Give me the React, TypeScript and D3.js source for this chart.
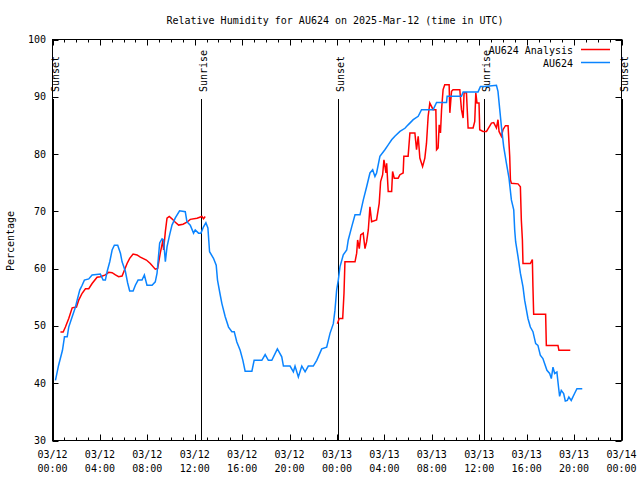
import React from "react";
import * as d3 from "d3";

const title = "Relative Humidity for AU624 on 2025-Mar-12 (time in UTC)";
const yLabel = "Percentage";
const seriesNames = ["AU624 Analysis", "AU624"];
const seriesColors = ["#ff0000", "#0a84ff"];

const tickDates = ["03/12", "03/12", "03/12", "03/12", "03/12", "03/12", "03/13", "03/13", "03/13", "03/13", "03/13", "03/13", "03/14"];
const tickTimes = ["00:00", "04:00", "08:00", "12:00", "16:00", "20:00", "00:00", "04:00", "08:00", "12:00", "16:00", "20:00", "00:00"];
const yTicks = [30, 40, 50, 60, 70, 80, 90, 100];

const eventHours = [0.08, 12.52, 24.11, 36.4, 48.08];
const eventLabels = ["Sunset", "Sunrise", "Sunset", "Sunrise", "Sunset"];

// AU624 observations (hours since 03/12 00:00 UTC)
const obsHours = [0.25, 0.51, 0.84, 1.01, 1.24, 1.37, 1.66, 1.94, 2.08, 2.3, 2.5, 2.69, 3.06, 3.34, 4.04, 4.27, 4.46, 4.61, 4.83, 5.03, 5.22, 5.5, 5.73, 5.87, 6.15, 6.34, 6.51, 6.8, 6.99, 7.22, 7.55, 7.75, 7.97, 8.4, 8.67, 8.82, 9.04, 9.24, 9.37, 9.52, 9.66, 9.88, 10.08, 10.36, 10.72, 11.2, 11.34, 11.62, 11.9, 12.04, 12.32, 12.52, 12.74, 12.94, 13.11, 13.25, 13.58, 13.81, 13.92, 14.15, 14.29, 14.57, 14.85, 15.13, 15.33, 15.55, 15.83, 16.06, 16.25, 16.82, 17.01, 17.66, 17.94, 18.21, 18.5, 18.97, 19.34, 19.48, 20.04, 20.32, 20.46, 20.74, 21.03, 21.31, 21.58, 22.0, 22.29, 22.71, 23.13, 23.41, 23.69, 23.83, 23.97, 24.11, 24.25, 24.53, 24.82, 24.95, 25.24, 25.52, 25.94, 26.22, 26.5, 26.78, 27.01, 27.2, 27.34, 27.62, 28.04, 28.32, 28.61, 28.88, 29.31, 29.73, 30.0, 30.43, 30.85, 31.13, 32.11, 32.4, 33.24, 33.29, 34.5, 34.64, 35.9, 36.1, 36.46, 37.45, 37.58, 37.73, 37.87, 38.06, 38.29, 38.51, 38.71, 38.91, 38.99, 39.07, 39.27, 39.47, 39.69, 39.83, 40.11, 40.31, 40.53, 40.76, 40.95, 41.15, 41.37, 41.52, 41.71, 41.94, 42.08, 42.22, 42.36, 42.55, 42.69, 42.78, 42.92, 43.12, 43.26, 43.43, 43.56, 43.76, 44.04, 44.24, 44.69];
const obsValues = [40.5, 43.1, 45.75, 48.1, 48.1, 49.8, 51.6, 53.3, 54.5, 56.25, 57.1, 58.0, 58.2, 58.9, 59.05, 58.0, 58.0, 59.5, 61.2, 63.25, 64.1, 64.1, 62.7, 61.2, 59.5, 57.5, 56.1, 56.1, 57.1, 58.0, 58.0, 58.9, 57.1, 57.1, 57.7, 59.2, 64.5, 65.2, 65.0, 61.2, 63.8, 65.9, 67.6, 68.85, 70.1, 69.95, 68.2, 67.6, 66.2, 66.75, 66.2, 66.2, 67.3, 68.0, 67.1, 62.95, 61.8, 60.6, 58.0, 55.4, 53.9, 51.6, 49.8, 49.0, 49.0, 47.2, 45.75, 44.0, 42.1, 42.1, 44.0, 44.0, 45.0, 44.0, 44.0, 46.0, 44.6, 43.0, 43.0, 42.0, 43.0, 41.1, 43.0, 42.0, 43.0, 43.0, 44.0, 46.0, 46.3, 48.7, 50.4, 52.75, 56.25, 58.0, 60.3, 62.4, 63.25, 65.0, 67.3, 69.4, 69.4, 72.0, 74.3, 76.7, 77.25, 76.1, 76.7, 79.6, 80.75, 81.6, 82.5, 83.1, 83.95, 84.5, 85.1, 86.0, 86.6, 87.75, 87.75, 89.0, 89.0, 90.1, 90.1, 90.85, 90.85, 91.8, 91.8, 92.0, 90.95, 87.75, 84.8, 81.3, 78.4, 75.8, 72.0, 70.25, 66.75, 64.7, 62.1, 59.2, 56.8, 54.5, 51.3, 49.8, 49.0, 46.9, 46.6, 44.9, 44.3, 43.4, 42.25, 41.7, 40.8, 42.8, 41.7, 41.95, 39.3, 37.7, 38.75, 38.2, 36.9, 37.0, 37.6, 37.0, 38.2, 39.05, 39.05];

// AU624 Analysis (null = no data)
const anaHours = [0.67, 0.9, 1.09, 1.37, 1.66, 2.02, 2.21, 2.5, 2.78, 3.06, 3.34, 3.76, 4.04, 4.46, 4.74, 5.03, 5.31, 5.58, 5.87, 6.29, 6.51, 6.8, 7.13, 7.41, 7.92, 8.25, 8.67, 8.87, 9.09, 9.32, 9.37, 9.52, 9.66, 9.85, 10.08, 10.36, 10.64, 11.01, 11.34, 11.62, 12.19, 12.61, 12.74, 12.88, 18.0, 24.03, 24.19, 24.48, 24.59, 24.67, 25.52, 25.66, 25.74, 25.88, 26.0, 26.21, 26.36, 26.5, 26.64, 26.78, 26.92, 27.34, 27.56, 27.68, 27.85, 27.96, 28.13, 28.19, 28.32, 28.61, 28.69, 28.83, 29.16, 29.31, 29.58, 29.64, 30.0, 30.15, 30.57, 30.71, 30.85, 30.99, 31.22, 31.41, 31.55, 31.69, 31.83, 32.11, 32.34, 32.4, 32.53, 32.62, 32.73, 32.82, 32.95, 33.09, 33.46, 33.52, 33.66, 33.79, 34.36, 34.5, 34.64, 34.72, 34.92, 35.06, 35.48, 35.62, 35.71, 35.81, 35.98, 36.04, 36.32, 36.61, 36.74, 37.03, 37.22, 37.45, 37.58, 37.67, 37.87, 38.0, 38.21, 38.43, 38.57, 38.63, 38.71, 39.27, 39.47, 39.55, 39.64, 39.69, 40.31, 40.48, 40.53, 40.59, 41.6, 41.66, 42.64, 42.72, 43.68];
const anaValues = [48.95, 48.95, 49.8, 51.3, 53.15, 53.3, 54.5, 55.7, 56.5, 56.5, 57.4, 58.5, 58.6, 58.9, 59.35, 59.3, 58.9, 58.6, 58.7, 60.9, 61.8, 62.55, 62.4, 62.0, 61.5, 60.9, 59.9, 60.05, 62.7, 65.0, 63.25, 66.45, 68.8, 69.1, 68.7, 68.1, 67.6, 67.75, 68.1, 68.6, 68.8, 69.1, 68.7, 69.1, null, 50.4, 51.3, 51.3, 55.7, 61.2, 61.2, 62.7, 65.0, 63.5, 65.9, 66.2, 63.5, 64.7, 66.75, 70.8, 68.2, 68.5, 71.4, 75.2, 76.4, 79.0, 76.7, 78.4, 73.45, 73.45, 76.95, 75.8, 75.8, 76.4, 76.7, 79.6, 79.6, 83.7, 83.7, 80.75, 83.1, 79.3, 77.8, 79.3, 81.9, 86.6, 88.9, 87.75, 87.75, 80.75, 81.05, 85.1, 83.7, 87.75, 91.25, 92.1, 92.1, 87.2, 90.95, 91.25, 91.25, 87.75, 86.3, 90.7, 90.7, 84.55, 84.55, 85.7, 90.7, 88.9, 88.9, 84.25, 83.95, 83.95, 84.4, 85.4, 85.5, 84.55, 86.0, 83.95, 83.1, 84.25, 84.95, 84.95, 79.6, 75.5, 74.9, 74.8, 74.3, 68.5, 65.0, 60.9, 60.9, 61.6, 56.8, 52.05, 52.05, 46.6, 46.6, 45.75, 45.75];

const W = 640;
const H = 480;
const L = 52.5;
const R = 621.5;
const T = 39.5;
const B = 440.5;
const FONT = "'DejaVu Sans Mono', 'Liberation Mono', monospace";

export default function App() {
  const x = d3.scaleLinear().domain([0, 48]).range([L, R]);
  const y = d3.scaleLinear().domain([30, 100]).range([B, T]);

  const obs = obsHours.map((h, i) => ({ h, v: obsValues[i] as number | null }));
  const ana = anaHours.map((h, i) => ({ h, v: anaValues[i] as number | null }));

  const line = d3
    .line<{ h: number; v: number | null }>()
    .defined((d) => d.v !== null)
    .x((d) => x(d.h))
    .y((d) => y(d.v as number));

  const majorHours = d3.range(0, 49, 4);
  const minorHours = d3.range(0, 49, 1).filter((h) => h % 4 !== 0);

  return (
    <svg
      width={W}
      height={H}
      style={{ position: "absolute", left: 0, top: 0, background: "#fff" }}
      fontFamily={FONT}
      fontSize={10}
    >
      <rect x={0} y={0} width={W} height={H} fill="#fff" />
      <text x={335} y={24} textAnchor="middle" fill="#000">
        {title}
      </text>

      {/* y ticks */}
      {yTicks.map((t) => (
        <g key={"y" + t}>
          <line x1={L} x2={L + 6} y1={Math.round(y(t)) + 0.5} y2={Math.round(y(t)) + 0.5} stroke="#000" />
          <line x1={R} x2={R - 6} y1={Math.round(y(t)) + 0.5} y2={Math.round(y(t)) + 0.5} stroke="#000" />
          <text x={46} y={y(t) + 3.5} textAnchor="end" fill="#000">
            {t}
          </text>
        </g>
      ))}

      {/* x ticks */}
      {majorHours.map((h, i) => {
        const px = Math.round(x(h)) + 0.5;
        return (
          <g key={"x" + h}>
            <line x1={px} x2={px} y1={B} y2={B - 6} stroke="#000" />
            <line x1={px} x2={px} y1={T} y2={T + 6} stroke="#000" />
            <text x={x(h)} y={457.5} textAnchor="middle" fill="#000">
              {tickDates[i]}
            </text>
            <text x={x(h)} y={471.5} textAnchor="middle" fill="#000">
              {tickTimes[i]}
            </text>
          </g>
        );
      })}
      {minorHours.map((h) => {
        const px = Math.round(x(h)) + 0.5;
        return (
          <g key={"m" + h}>
            <line x1={px} x2={px} y1={B} y2={B - 3} stroke="#000" />
            <line x1={px} x2={px} y1={T} y2={T + 3} stroke="#000" />
          </g>
        );
      })}

      <text transform={`translate(14,241) rotate(-90)`} textAnchor="middle" fill="#000">
        {yLabel}
      </text>

      {/* sunrise / sunset */}
      {eventHours.map((h, i) => {
        const px = Math.round(x(h)) + 0.5;
        return (
          <g key={"e" + i}>
            <line x1={px} x2={px} y1={99} y2={B} stroke="#000" />
            <text transform={`translate(${px + 5},92) rotate(-90)`} textAnchor="start" fill="#000">
              {eventLabels[i]}
            </text>
          </g>
        );
      })}

      <path d={line(ana) || ""} fill="none" stroke={seriesColors[0]} strokeWidth={1.5} />
      <path d={line(obs) || ""} fill="none" stroke={seriesColors[1]} strokeWidth={1.5} />

      {/* frame */}
      <rect x={L} y={T} width={R - L} height={B - T} fill="none" stroke="#000" />

      {/* legend */}
      {seriesNames.map((n, i) => (
        <g key={"l" + n}>
          <text x={573} y={53.5 + i * 13} textAnchor="end" fill="#000">
            {n}
          </text>
          <line x1={581} x2={610} y1={49.5 + i * 13} y2={49.5 + i * 13} stroke={seriesColors[i]} strokeWidth={1.5} />
        </g>
      ))}
    </svg>
  );
}
